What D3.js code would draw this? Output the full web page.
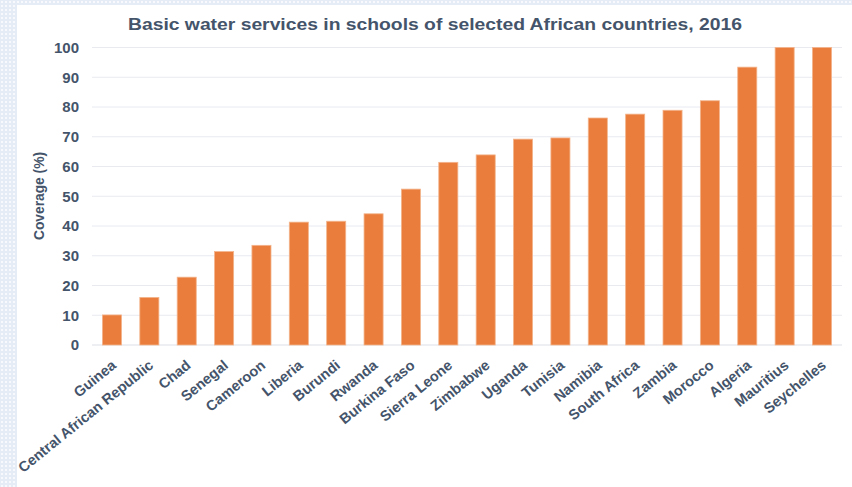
<!DOCTYPE html>
<html><head><meta charset="utf-8">
<script src="https://cdn.jsdelivr.net/npm/d3@7"></script>
<style>html,body{margin:0;padding:0;background:#fff;}svg{display:block;}</style>
</head><body>
<svg id="chart" width="852" height="487"></svg>
<script>
const countries = ["Guinea","Central African Republic","Chad","Senegal","Cameroon","Liberia","Burundi","Rwanda","Burkina Faso","Sierra Leone","Zimbabwe","Uganda","Tunisia","Namibia","South Africa","Zambia","Morocco","Algeria","Mauritius","Seychelles"];
const coverage = [10.1,16,22.8,31.4,33.5,41.3,41.6,44.1,52.4,61.4,63.9,69.2,69.6,76.3,77.6,78.9,82.1,93.4,100,100];
const yTicks = [0,10,20,30,40,50,60,70,80,90,100];
const title = "Basic water services in schools of selected African countries, 2016";
const yTitle = "Coverage (%)";

const svg = d3.select("#chart");
const textColor = "#44546a";
const font = "'Liberation Sans', Arial, sans-serif";

// background pattern
const defs = svg.append("defs");
const pat = defs.append("pattern").attr("id","dots").attr("width",4).attr("height",4).attr("patternUnits","userSpaceOnUse");
pat.append("rect").attr("width",4).attr("height",4).attr("fill","#e6ecf5");
pat.append("rect").attr("x",1).attr("y",1).attr("width",2).attr("height",2).attr("fill","#f7f9fc");
svg.append("rect").attr("width",852).attr("height",487).attr("fill","url(#dots)");
svg.append("rect").attr("x",17).attr("y",5).attr("width",835).attr("height",482).attr("fill","#fff");

const x = d3.scaleBand().domain(countries).range([93.3, 840.7]).paddingInner(0.49).paddingOuter(0.245);
const y = d3.scaleLinear().domain([0,100]).range([345, 47.5]);

// gridlines
svg.append("g").selectAll("line").data(yTicks).join("line")
  .attr("x1",92).attr("x2",842)
  .attr("y1",d=>y(d)).attr("y2",d=>y(d))
  .attr("stroke",d=>d===0?"#dcdfe6":"#e8eaf0").attr("stroke-width",1);

// y axis labels
const yAxis = svg.append("g").attr("transform","translate(79,0)")
  .call(d3.axisLeft(y).tickValues(yTicks).tickSize(0).tickPadding(0));
yAxis.select(".domain").remove();
yAxis.selectAll("text").attr("fill",textColor).style("font-family",font)
  .style("font-size","15px").style("font-weight","bold");

// bars
svg.append("g").selectAll("rect").data(countries).join("rect")
  .attr("x",d=>x(d)).attr("width",x.bandwidth())
  .attr("y",(d,i)=>y(coverage[i])).attr("height",(d,i)=>y(0)-y(coverage[i]))
  .attr("fill","#ea7d3c").attr("stroke","#f3b48c").attr("stroke-width",0.8);

// x labels
const xAxis = svg.append("g").attr("transform","translate(0,345)")
  .call(d3.axisBottom(x).tickSize(0).tickPadding(0));
xAxis.select(".domain").remove();
xAxis.selectAll("text")
  .attr("fill",textColor).style("font-family",font)
  .style("font-size","14.5px").style("font-weight","bold")
  .attr("text-anchor","end").attr("dy",null).attr("y",0)
  .attr("transform","translate(5,22) rotate(-39)");

// title
svg.append("text").attr("x",435).attr("y",30).attr("text-anchor","middle")
  .attr("fill",textColor).style("font-family",font).style("font-size","17px").style("font-weight","bold")
  .attr("textLength",614).attr("lengthAdjust","spacingAndGlyphs")
  .text(title);

// y title
svg.append("text").attr("transform","translate(44,196) rotate(-90)").attr("text-anchor","middle")
  .attr("fill",textColor).style("font-family",font).style("font-size","14.5px").style("font-weight","bold")
  .attr("textLength",88).attr("lengthAdjust","spacingAndGlyphs")
  .text(yTitle);
</script>
</body></html>
